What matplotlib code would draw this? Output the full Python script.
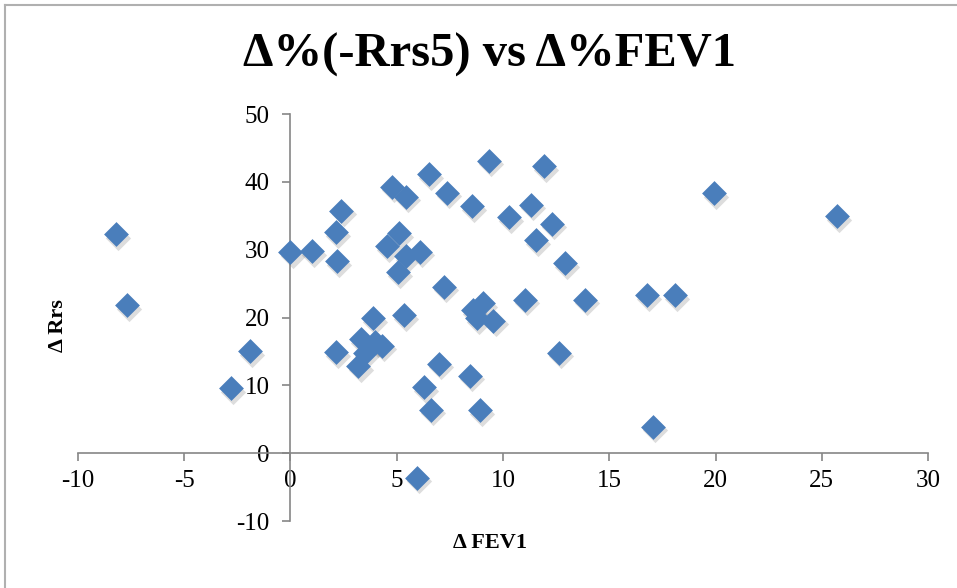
import matplotlib
matplotlib.use("Agg")
import matplotlib.pyplot as plt
from matplotlib.lines import Line2D
from matplotlib.transforms import ScaledTranslation

# Изменения FEV1 и Rrs5 (%), по одному пациенту на точку
delta_fev1 = [-8.2, -7.7, -2.8, -1.9, 0.0, 1.0, 2.15, 2.4, 2.2, 2.15,
              3.3, 4.0, 4.3, 3.5, 3.2, 3.9, 5.35,
              4.55, 5.1, 5.45, 6.1, 5.05,
              4.76, 5.44, 6.52, 7.35, 9.36, 11.94, 8.53, 10.27, 11.3, 12.32, 11.54, 12.92,
              7.24, 8.6, 9.07, 8.76, 9.55, 11.05, 13.86, 12.65, 7.0, 8.45, 6.28, 6.6, 8.9, 5.94,
              19.94, 25.7, 16.76, 18.09, 17.07]
delta_rrs = [32.3, 21.8, 9.6, 15.0, 29.6, 29.8, 32.6, 35.7, 28.3, 14.9,
             16.8, 16.4, 15.8, 14.8, 12.8, 19.9, 20.3,
             30.5, 32.4, 29.0, 29.7, 26.7,
             39.3, 37.8, 41.1, 38.4, 43.1, 42.3, 36.4, 34.8, 36.6, 33.8, 31.4, 28.0,
             24.5, 21.1, 22.1, 19.9, 19.5, 22.6, 22.6, 14.8, 13.2, 11.4, 9.7, 6.4, 6.3, -3.6,
             38.3, 34.9, 23.3, 23.3, 3.9]

x_ticks = [-10, -5, 0, 5, 10, 15, 20, 25, 30]
y_ticks = [-10, 0, 10, 20, 30, 40, 50]

plt.rcParams["axes.unicode_minus"] = False
serif = ["Liberation Serif", "DejaVu Serif"]
axis_gray = "#868686"

fig = plt.figure(figsize=(9.57, 5.88), dpi=100)
ax = fig.add_axes([0.0815, 0.1139, 0.8882, 0.6922])

# Мягкая тень под маркерами (смещение вправо-вниз)
shadow = ax.transData + ScaledTranslation(1.5 / 72, -2.5 / 72, fig.dpi_scale_trans)
ax.scatter(delta_fev1, delta_rrs, marker="D", s=165, color="#666666", alpha=0.22,
           linewidths=0, transform=shadow, zorder=3)
ax.scatter(delta_fev1, delta_rrs, marker="D", s=160, color="#4a7ebb",
           linewidths=0, zorder=4)

# Оси пересекаются в нуле, как в Excel
ax.set_xlim(-10, 30)
ax.set_ylim(-10, 50)
ax.spines["left"].set_position(("data", 0))
ax.spines["bottom"].set_position(("data", 0))
ax.spines["top"].set_visible(False)
ax.spines["right"].set_visible(False)
for side in ("left", "bottom"):
    ax.spines[side].set_color(axis_gray)
    ax.spines[side].set_linewidth(1.2)

ax.set_xticks(x_ticks)
ax.set_yticks(y_ticks)
ax.tick_params(axis="both", direction="out", length=6, width=1.2, color=axis_gray,
               labelsize=18)
ax.tick_params(axis="y", pad=9)
ax.tick_params(axis="x", pad=6)
for lab in ax.get_xticklabels() + ax.get_yticklabels():
    lab.set_family(serif)

fig.text(0.512, 0.906, "Δ%(-Rrs5) vs Δ%FEV1", ha="center", va="center",
         fontsize=35, fontweight="bold", family=serif)
fig.text(0.512, 0.076, "Δ FEV1", ha="center", va="center",
         fontsize=16, fontweight="bold", family=serif)
fig.text(0.061, 0.447, "Δ Rrs", ha="center", va="center", rotation=90,
         fontsize=16, fontweight="bold", family=serif)

# Рамка области диаграммы (видны только верх и левый край)
fig.add_artist(Line2D([5 / 957, 1], [1 - 5 / 588, 1 - 5 / 588], color="#b0b0b0", lw=1.5,
                      transform=fig.transFigure))
fig.add_artist(Line2D([5 / 957, 5 / 957], [0, 1 - 5 / 588], color="#b0b0b0", lw=1.5,
                      transform=fig.transFigure))

plt.savefig("out.png", dpi=100)
plt.close()
